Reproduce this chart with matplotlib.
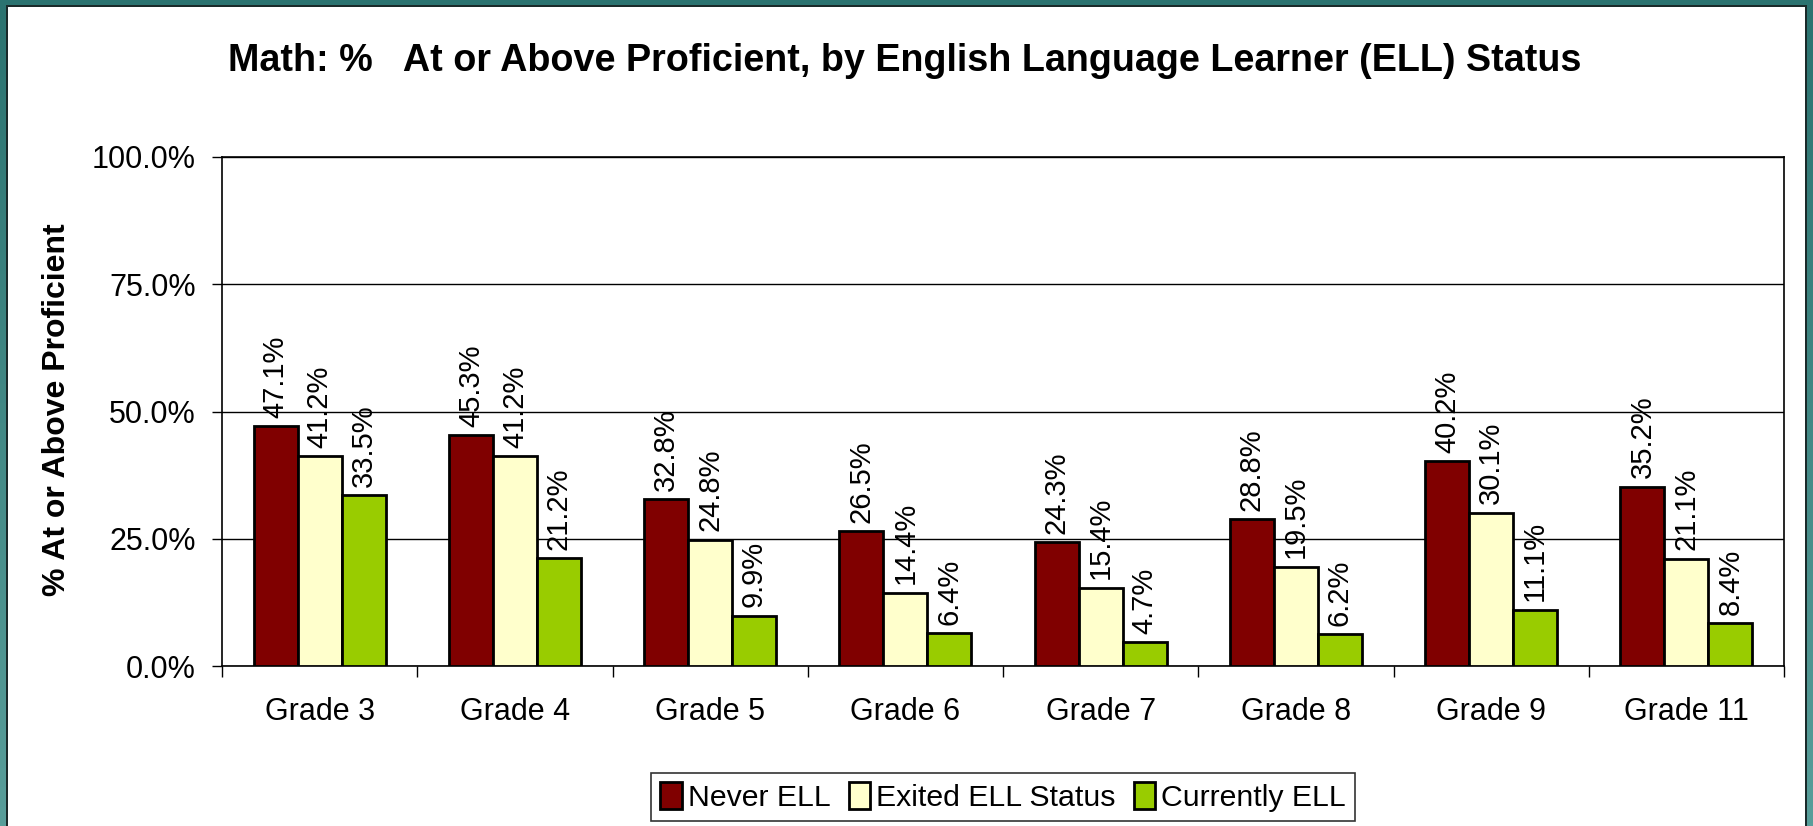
import matplotlib
matplotlib.use("Agg")
import matplotlib.pyplot as plt
import numpy as np
from matplotlib.patches import Rectangle
from matplotlib.ticker import FuncFormatter, FixedLocator

plt.rcParams['font.family'] = ['Liberation Sans', 'DejaVu Sans']

categories = ["Grade 3", "Grade 4", "Grade 5", "Grade 6", "Grade 7", "Grade 8", "Grade 9", "Grade 11"]
series_names = ["Never ELL", "Exited ELL Status", "Currently ELL"]
never_ell = [47.1, 45.3, 32.8, 26.5, 24.3, 28.8, 40.2, 35.2]
exited_ell = [41.2, 41.2, 24.8, 14.4, 15.4, 19.5, 30.1, 21.1]
current_ell = [33.5, 21.2, 9.9, 6.4, 4.7, 6.2, 11.1, 8.4]
colors = ["#800000", "#FFFFCC", "#99CC00"]
yticks = [0, 25, 50, 75, 100]

W, H = 1813, 826
fig = plt.figure(figsize=(W / 100, H / 100), dpi=100)
fig.patch.set_facecolor("white")

# teal frame around the slide
def px_rect(x0, y0, x1, y1, color, z=10):
    fig.add_artist(Rectangle((x0 / W, 1 - y1 / H), (x1 - x0) / W, (y1 - y0) / H,
                             transform=fig.transFigure, facecolor=color,
                             edgecolor="none", zorder=z))

grad = np.linspace(0, 1, 256)[:, None]
top_c = np.array([0x2b, 0x73, 0x70]) / 255
bot_c = np.array([0x58, 0x9e, 0x9a]) / 255
img = top_c[None, None, :] * (1 - grad[..., None]) + bot_c[None, None, :] * grad[..., None]
for x0 in (0, 1807):
    gax = fig.add_axes([x0 / W, 0, 6 / W, 1])
    gax.imshow(img, aspect="auto", extent=[0, 1, 0, 1], origin="upper")
    gax.axis("off")

px_rect(0, 0, W, 5, "#2b7370")
px_rect(6, 5, 1807, 7, "#1a2a2a")
px_rect(6, 5, 8, H, "#1a2a2a")
px_rect(1805, 5, 1807, H, "#1a2a2a")

ax = fig.add_axes([222 / W, 1 - 666 / H, (1784 - 222) / W, (666 - 157) / H])

x = np.arange(len(categories))
bw = 0.225
series = [never_ell, exited_ell, current_ell]
for i, (vals, name, c) in enumerate(zip(series, series_names, colors)):
    bars = ax.bar(x + (i - 1) * bw, vals, bw, color=c, edgecolor="black",
                  linewidth=2.0, label=name, zorder=3)
    ax.bar_label(bars, labels=[f"{v:.1f}%" for v in vals], rotation=90,
                 padding=6, fontsize=21, zorder=4)

ax.set_xlim(-0.5, len(categories) - 0.5)
ax.set_ylim(0, 100)
ax.yaxis.set_major_locator(FixedLocator(yticks))
ax.yaxis.set_major_formatter(FuncFormatter(lambda v, p: f"{v:.1f}%"))
ax.grid(axis="y", color="black", linewidth=1.0, zorder=0)
ax.set_axisbelow(True)

ax.set_xticks(x)
ax.set_xticklabels(categories, fontsize=22)
ax.set_xticks(np.arange(-0.5, len(categories)), minor=True)
ax.tick_params(axis="x", which="major", length=0, pad=22)
ax.tick_params(axis="x", which="minor", length=8, width=1, direction="out")
ax.tick_params(axis="y", labelsize=22, length=7, width=1, pad=12)

for s in ax.spines.values():
    s.set_linewidth(1.2)
    s.set_color("black")

fig.text(57 / W, 1 - 410 / H, "% At or Above Proficient", rotation=90,
         fontsize=23, fontweight="bold", ha="center", va="center")
fig.text(905 / W, 1 - 61 / H,
         "Math: %   At or Above Proficient, by English Language Learner (ELL) Status",
         fontsize=27.2, fontweight="bold", ha="center", va="center")

leg = fig.legend(loc="center", bbox_to_anchor=(1003 / W, 1 - 797 / H), ncol=3,
                 fontsize=21.8, frameon=True, fancybox=False, shadow=False,
                 handlelength=0.7, handleheight=1.0, handletextpad=0.2,
                 columnspacing=0.6, borderpad=0.3, borderaxespad=0)
leg.get_frame().set_edgecolor("black")
leg.get_frame().set_linewidth(1.2)
for h in leg.legend_handles:
    h.set_linewidth(2.0)

fig.savefig("out.png", dpi=100)
